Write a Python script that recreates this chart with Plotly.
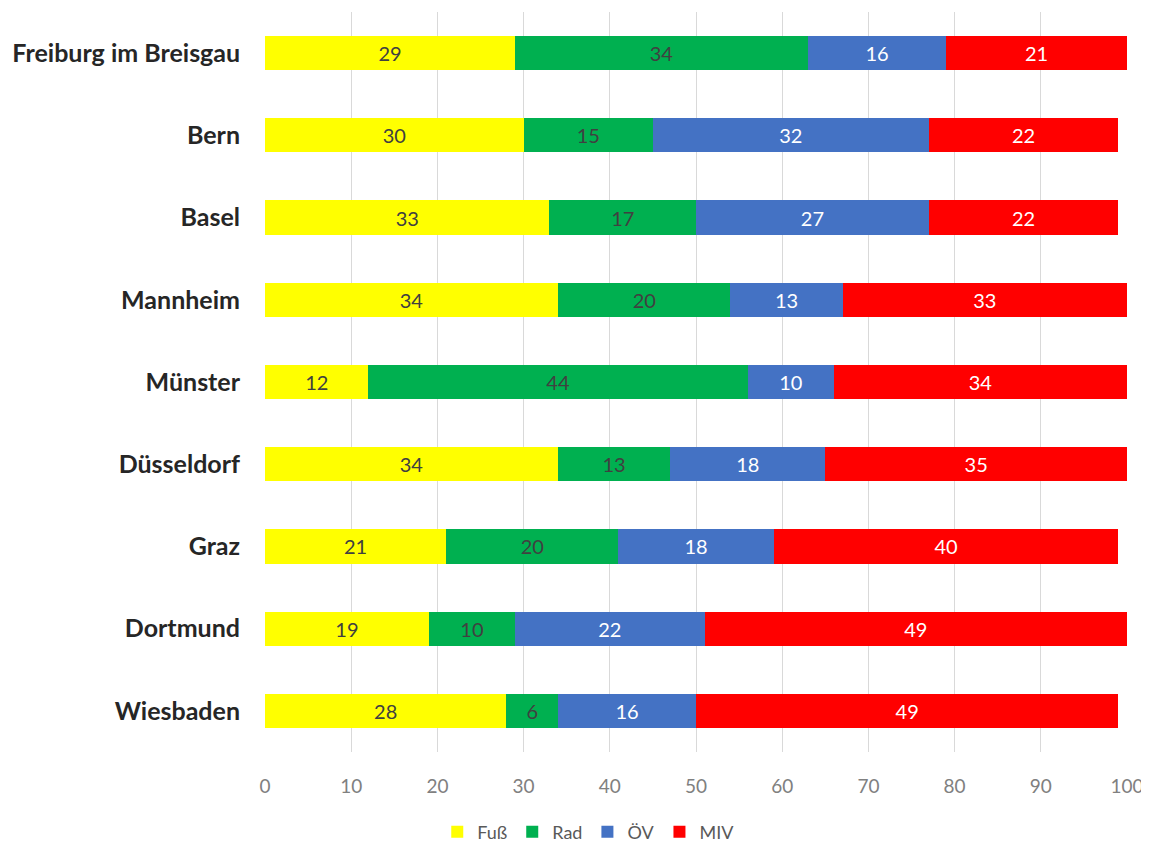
import plotly.graph_objects as go

cities = ["Freiburg im Breisgau", "Bern", "Basel", "Mannheim", "Münster",
          "Düsseldorf", "Graz", "Dortmund", "Wiesbaden"]
fuss = [29, 30, 33, 34, 12, 34, 21, 19, 28]
rad = [34, 15, 17, 20, 44, 13, 20, 10, 6]
oev = [16, 32, 27, 13, 10, 18, 18, 22, 16]
miv = [21, 22, 22, 33, 34, 35, 40, 49, 49]

series = [
    ("Fuß", fuss, "#FFFF00", "#404040"),
    ("Rad", rad, "#00B050", "#404040"),
    ("ÖV", oev, "#4472C4", "#FFFFFF"),
    ("MIV", miv, "#FF0000", "#FFFFFF"),
]

fig = go.Figure()
for name, vals, col, tcol in series:
    fig.add_trace(go.Bar(
        y=cities, x=vals, name=name, orientation="h",
        marker=dict(color=col, line=dict(width=0)),
        text=vals, textposition="inside", insidetextanchor="middle",
        textfont=dict(color=tcol, size=20, family="Lato"),
        constraintext="none",
    ))

# page body has an 8px margin; legend placed in container coords so it
# does not push the bottom margin
fig.update_layout(
    barmode="stack",
    bargap=0.585,
    width=1141, height=840,
    margin=dict(l=257, r=22, t=4, b=96),
    plot_bgcolor="white", paper_bgcolor="white",
    font=dict(family="Lato", color="#595959"),
    legend=dict(orientation="h", x=0.375, xanchor="center",
                yref="container", y=0.019, yanchor="middle",
                font=dict(size=18, color="#595959"), traceorder="normal",
                itemwidth=30),
    xaxis=dict(range=[0, 100], dtick=10, showgrid=True, gridcolor="#D9D9D9", gridwidth=1,
               zeroline=False, showline=False, ticks="",
               tickfont=dict(size=19, color="#808080"), ticklabelstandoff=21),
    yaxis=dict(autorange="reversed", showgrid=False, showline=False, ticks="",
               tickfont=dict(size=25, color="#262626", family="Lato", weight="bold"),
               ticklabelstandoff=24),
)

fig.write_html("out.html")
